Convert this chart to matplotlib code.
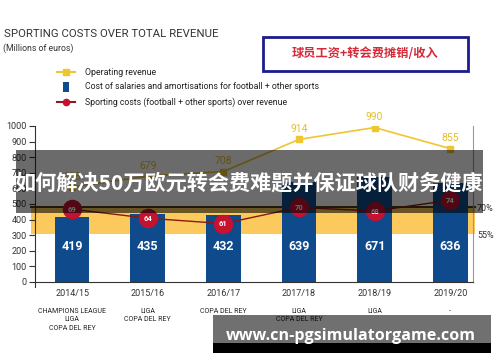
import matplotlib
matplotlib.use("Agg")
import matplotlib.pyplot as plt
from matplotlib.patches import Rectangle
from matplotlib.lines import Line2D
from matplotlib.transforms import blended_transform_factory

NARROW = ['Liberation Sans Narrow', 'Roboto', 'DejaVu Sans']
CJK = ['Noto Sans CJK SC', 'DejaVu Sans']
plt.rcParams['font.family'] = NARROW

seasons = ['2014/15', '2015/16', '2016/17', '2017/18', '2018/19', '2019/20']
trophies = ['CHAMPIONS LEAGUE\nLIGA\nCOPA DEL REY', 'LIGA\nCOPA DEL REY', 'COPA DEL REY',
            'LIGA\nCOPA DEL REY', 'LIGA', '-']
operating_revenue = [608, 679, 708, 914, 990, 855]
salary_costs = [419, 435, 432, 639, 671, 636]
sporting_pct = [69, 64, 61, 70, 68, 74]
band_pct = [55, 70]

NAVY = '#0f4a8c'
YELLOW = '#efc530'
RED = '#c41230'

fig = plt.figure(figsize=(5.0, 3.62), dpi=100)
ax = fig.add_axes([0.07, 0.221, 0.876, 0.431])
x = list(range(len(seasons)))

ax.set_xlim(-0.49, 5.3)
ax.set_ylim(0, 1000)

# secondary percentage axis (55% and 70% band)
ax2 = ax.twinx()
ax2.set_ylim(28.55, 115.26)
ax2.set_yticks(band_pct)
ax2.set_yticklabels([f'{p}%' for p in band_pct], fontsize=6.5, color='#333333')
ax2.tick_params(axis='y', length=0, pad=3)
for s in ['top', 'left', 'bottom']:
    ax2.spines[s].set_visible(False)
ax2.spines['right'].set_color('#999999')
ax2.spines['right'].set_linewidth(0.8)

trans2 = blended_transform_factory(ax2.transAxes, ax2.transData)
ax2.add_patch(Rectangle((-0.008, band_pct[0]), 1.012, band_pct[1] - band_pct[0],
                        transform=trans2, facecolor='#fbc95c', edgecolor='none',
                        zorder=0, clip_on=False))
ax2.plot([-0.008, 1.004], [band_pct[1], band_pct[1]], transform=trans2,
         color='#4a3510', lw=1.4, zorder=1, clip_on=False)

ax.set_zorder(ax2.get_zorder() + 1)
ax.patch.set_visible(False)

# bars
ax.bar(x, salary_costs, width=0.46, color=NAVY, zorder=2)
for xi, v in zip(x, salary_costs):
    ax.text(xi, 225, str(v), ha='center', va='center', color='white',
            fontsize=9, fontweight='bold', zorder=5)

# operating revenue line
ax.plot(x, operating_revenue, color=YELLOW, lw=1.2, marker='s', markersize=4.5, zorder=3)
for xi, v in zip(x, operating_revenue):
    ax.annotate(str(v), (xi, v), xytext=(0, 7.5), textcoords='offset points',
                ha='center', va='center', color='#e6bf2a', fontsize=7.5, zorder=5)

# sporting costs percentage line (on percent axis, drawn into main axes)
tp = blended_transform_factory(ax.transData, ax2.transData)
ax.plot(x, sporting_pct, transform=tp, color='#8a1a10', lw=1.0, zorder=3)
ax.plot(x, sporting_pct, transform=tp, linestyle='none', marker='o', markersize=13,
        color=RED, zorder=4)
for xi, p in zip(x, sporting_pct):
    ax.text(xi, p, str(p), transform=tp, ha='center', va='center', color='white',
            fontsize=5.5, fontweight='bold', zorder=6)

# axes styling
ax.set_yticks(range(0, 1001, 100))
ax.tick_params(axis='y', labelsize=6.5, labelcolor='#333333', length=4, color='#333333', pad=2)
ax.set_xticks(x)
ax.set_xticklabels(seasons, fontsize=6.5, color='#333333')
ax.tick_params(axis='x', length=0, pad=5)
ax.spines['top'].set_visible(False)
ax.spines['right'].set_visible(False)
ax.spines['left'].set_color('#333333')
ax.spines['bottom'].set_color('#333333')
ax.spines['left'].set_bounds(-30, 1000)

transT = blended_transform_factory(ax.transData, ax.transAxes)
for xi, t in zip(x, trophies):
    ax.text(xi, -0.165, t, transform=transT, ha='center', va='top', fontsize=5,
            color='#222222', linespacing=1.35)

# title
fig.text(0.007, 0.905, 'SPORTING COSTS OVER TOTAL REVENUE', fontsize=8.2, color='#333333',
         ha='left', va='center')
fig.text(0.006, 0.866, '(Millions of euros)', fontsize=6.3, color='#333333',
         ha='left', va='center')

# legend
rows = [0.801, 0.760, 0.718]
fig.add_artist(Line2D([0.114, 0.150], [rows[0], rows[0]], color=YELLOW, lw=1.5,
                      transform=fig.transFigure))
fig.add_artist(Line2D([0.132], [rows[0]], marker='s', markersize=4.5, color=YELLOW,
                      transform=fig.transFigure))
fig.add_artist(Rectangle((0.126, rows[1] - 0.014), 0.012, 0.028, facecolor=NAVY,
                         transform=fig.transFigure))
fig.add_artist(Line2D([0.114, 0.150], [rows[2], rows[2]], color='#8a1a2a', lw=1.5,
                      transform=fig.transFigure))
fig.add_artist(Line2D([0.132], [rows[2]], marker='o', markersize=4.5, color=RED,
                      transform=fig.transFigure))
leg_texts = ['Operating revenue', 'Cost of salaries and amortisations for football + other sports',
             'Sporting costs (football + other sports) over revenue']
for r, t in zip(rows, leg_texts):
    fig.text(0.170, r, t, fontsize=6.3, color='#222222', ha='left', va='center')

# boxed Chinese annotation
fig.add_artist(Rectangle((0.526, 0.804), 0.41, 0.094, facecolor='white',
                         edgecolor='#1c1c8c', lw=2, transform=fig.transFigure))
fig.text(0.731, 0.853, '球员工资+转会费摊销/收入', family=CJK, fontsize=8.8,
         fontweight='bold', color='#d42a3a', ha='center', va='center')

# overlay banner
fig.add_artist(Rectangle((0.032, 0.4116), 0.934, 0.174, facecolor='black', alpha=0.58,
                         edgecolor='none', transform=fig.transFigure, zorder=10))
fig.text(0.498, 0.494, '如何解决50万欧元转会费难题并保证球队财务健康', family=CJK,
         fontsize=15.2, fontweight='bold', color='white', ha='center', va='center', zorder=11)

# bottom banner
fig.add_artist(Rectangle((0.426, 0.0525), 0.556, 0.0773, facecolor='black', alpha=0.56,
                         edgecolor='none', transform=fig.transFigure, zorder=10))
fig.add_artist(Rectangle((0.426, 0.0249), 0.556, 0.0276, facecolor='black',
                         edgecolor='none', transform=fig.transFigure, zorder=10))
fig.text(0.702, 0.072, 'www.cn-pgsimulatorgame.com', family=['Open Sans', 'DejaVu Sans'],
         fontsize=11.6, fontweight='bold', color='white', ha='center', va='center', zorder=11)

fig.savefig('out.png', dpi=100)
